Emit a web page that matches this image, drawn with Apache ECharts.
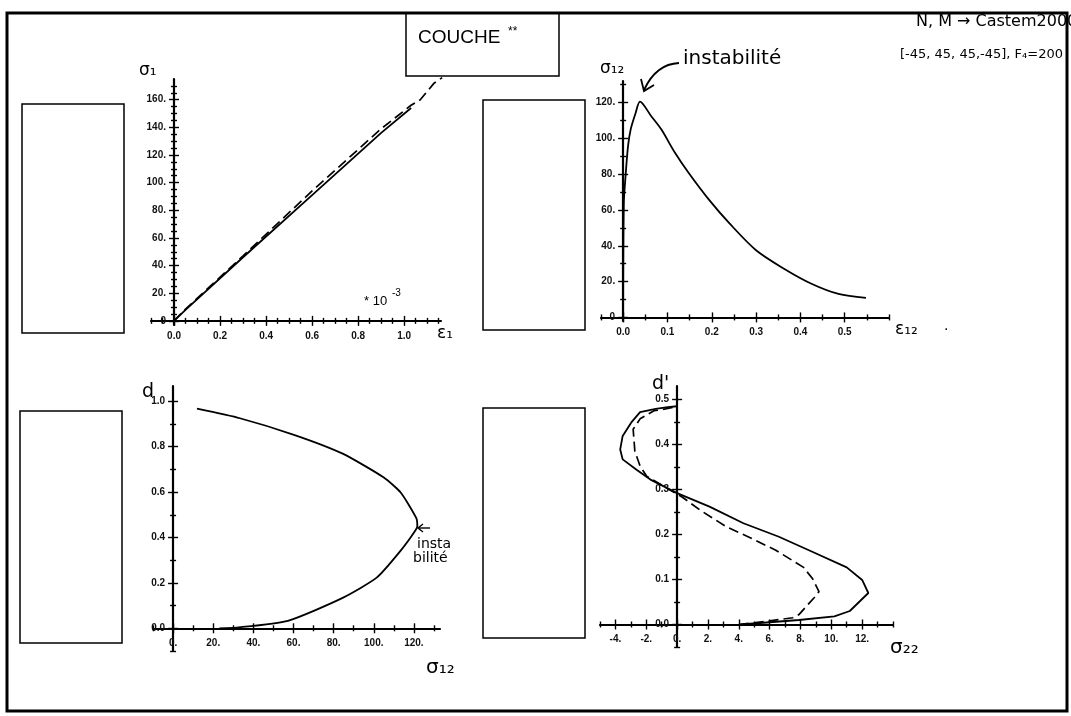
<!DOCTYPE html>
<html><head><meta charset="utf-8">
<script src="https://cdn.jsdelivr.net/npm/echarts@6/dist/echarts.min.js"></script>
<style>html,body{margin:0;padding:0;background:#fff}#c{width:1071px;height:716px}</style>
</head><body><div id="c"></div>
<script>
// ---------------- DATA ----------------
// Panel 1 : sigma1 vs eps1 (*10^-3)
const p1SolidEps = [0, 0.05, 0.3, 0.6, 0.9, 1.03];
const p1SolidSig = [0, 8, 46, 91, 136, 154];
const p1DashEps  = [0, 0.05, 0.3, 0.6, 0.9, 1.03, 1.07, 1.1, 1.13, 1.165];
const p1DashSig  = [0, 8.5, 47, 94, 139, 156, 160, 166, 172, 176];
const p1XTicks = [0, 0.2, 0.4, 0.6, 0.8, 1.0];
const p1XLabels = ['0.0', '0.2', '0.4', '0.6', '0.8', '1.0'];
const p1YTicks = [0, 20, 40, 60, 80, 100, 120, 140, 160];
const p1YLabels = ['0', '20.', '40.', '60.', '80.', '100.', '120.', '140.', '160.'];

// Panel 2 : sigma12 vs eps12
const p2Eps = [0, 0.0015, 0.0054, 0.011, 0.017, 0.028, 0.038, 0.063, 0.086, 0.117, 0.148, 0.194, 0.24, 0.30, 0.363, 0.425, 0.486, 0.548];
const p2Sig = [0, 63.8, 78.8, 95.6, 105, 114, 120.5, 112.5, 105, 91.9, 80.6, 65.6, 52.5, 37.5, 27.2, 18.8, 13.1, 10.9];
const p2XTicks = [0, 0.1, 0.2, 0.3, 0.4, 0.5];
const p2XLabels = ['0.0', '0.1', '0.2', '0.3', '0.4', '0.5'];
const p2YTicks = [0, 20, 40, 60, 80, 100, 120];
const p2YLabels = ['0', '20.', '40.', '60.', '80.', '100.', '120.'];

// Panel 3 : d vs sigma12
const p3Sig = [23.0, 31.6, 57.2, 84.5, 101.6, 113.5, 120.3, 121.7, 121.2, 113.5, 105.0, 84.5, 60.6, 33.3, 11.9];
const p3D   = [0, 0.003, 0.033, 0.134, 0.224, 0.343, 0.425, 0.451, 0.485, 0.597, 0.664, 0.769, 0.851, 0.925, 0.967];
const p3XTicks = [0, 20, 40, 60, 80, 100, 120];
const p3XLabels = ['0.', '20.', '40.', '60.', '80.', '100.', '120.'];
const p3YTicks = [0, 0.2, 0.4, 0.6, 0.8, 1.0];
const p3YLabels = ['0.0', '0.2', '0.4', '0.6', '0.8', '1.0'];

// Panel 4 : d' vs sigma22
const p4SolidSig = [4.1, 7.9, 10.2, 11.2, 12.4, 12.0, 11.0, 8.8, 6.6, 4.3, 2.1, 0, -1.73, -2.63, -3.53, -3.69, -3.53, -2.97, -2.4, -1.39, -0.6, 0];
const p4SolidD   = [0, 0.010, 0.018, 0.030, 0.070, 0.099, 0.127, 0.161, 0.195, 0.225, 0.262, 0.292, 0.322, 0.344, 0.367, 0.389, 0.419, 0.449, 0.472, 0.479, 0.483, 0.485];
const p4DashSig  = [4.0, 6.0, 7.5, 7.9, 8.9, 9.2, 8.8, 8.2, 6.4, 4.6, 3.2, 1.5, 0.3, -1.06, -1.96, -2.4, -2.74, -2.85, -2.4, -1.5, -0.6, 0];
const p4DashD    = [0, 0.008, 0.015, 0.022, 0.060, 0.073, 0.101, 0.127, 0.165, 0.195, 0.217, 0.254, 0.284, 0.311, 0.329, 0.352, 0.385, 0.434, 0.457, 0.475, 0.480, 0.485];
const p4XTicks = [-4, -2, 0, 2, 4, 6, 8, 10, 12];
const p4XLabels = ['-4.', '-2.', '0.', '2.', '4.', '6.', '8.', '10.', '12.'];
const p4YTicks = [0, 0.1, 0.2, 0.3, 0.4, 0.5];
const p4YLabels = ['0.0', '0.1', '0.2', '0.3', '0.4', '0.5'];

// ---------------- LAYOUT ----------------
function minorList(from, to, step, majors) {
  const out = [];
  const n = Math.round((to - from) / step);
  for (let i = 0; i <= n; i++) {
    const v = +(from + i * step).toFixed(6);
    if (!majors.some(m => Math.abs(m - v) < step / 10)) out.push(v);
  }
  return out;
}
function pair(xs, ys) { return xs.map((x, i) => [x, ys[i]]); }

const panels = [
  { left: 151, top: 79, width: 290, height: 246,
    x: { min: -0.1, max: 1.16, majors: p1XTicks, labels: p1XLabels, minors: minorList(-0.1, 1.15, 0.05, p1XTicks) },
    y: { min: -3, max: 175, majors: p1YTicks, labels: p1YLabels, minors: minorList(5, 170, 5, p1YTicks) } },
  { left: 601, top: 81, width: 288, height: 240,
    x: { min: -0.05, max: 0.6, majors: p2XTicks, labels: p2XLabels, minors: minorList(-0.05, 0.6, 0.05, p2XTicks) },
    y: { min: -2, max: 132, majors: p2YTicks, labels: p2YLabels, minors: minorList(10, 130, 10, p2YTicks) } },
  { left: 153, top: 386, width: 287, height: 265,
    x: { min: -10, max: 133, majors: p3XTicks, labels: p3XLabels, minors: minorList(-10, 130, 10, p3XTicks) },
    y: { min: -0.1, max: 1.067, majors: p3YTicks, labels: p3YLabels, minors: minorList(-0.1, 1.0, 0.1, p3YTicks) } },
  { left: 600, top: 386, width: 293, height: 261,
    x: { min: -5, max: 14, majors: p4XTicks, labels: p4XLabels, minors: minorList(-5, 14, 1, p4XTicks) },
    y: { min: -0.05, max: 0.53, majors: p4YTicks, labels: p4YLabels, minors: minorList(-0.05, 0.45, 0.05, p4YTicks) } }
];

const LBL = { color: '#111', fontFamily: 'Liberation Sans', fontSize: 10, fontWeight: 'bold' };
function lookup(majors, labels) {
  return function (v) {
    let bi = 0, bd = Infinity;
    majors.forEach((m, i) => { const d = Math.abs(m - v); if (d < bd) { bd = d; bi = i; } });
    return labels[bi];
  };
}

const grids = [], xAxes = [], yAxes = [];
panels.forEach((p, gi) => {
  grids.push({ left: p.left, top: p.top, width: p.width, height: p.height, containLabel: false });
  const base = gi * 4;
  // distance of the crossing axis from the grid edge (labels are laid at the grid edge)
  const dxFromLeft = p.width * (0 - p.x.min) / (p.x.max - p.x.min);
  const dyFromBottom = p.height * (0 - p.y.min) / (p.y.max - p.y.min);
  ['x', 'y'].forEach(dim => {
    const c = p[dim];
    const arr = dim === 'x' ? xAxes : yAxes;
    const pos = dim === 'x' ? ['bottom', 'top'] : ['left', 'right'];
    for (let k = 0; k < 4; k++) {
      const isMajor = k < 2;
      arr.push({
        type: 'value', gridIndex: gi, min: c.min, max: c.max,
        position: pos[k % 2],
        splitLine: { show: false }, minorTick: { show: false },
        axisLine: { show: k === 0, onZero: true, onZeroAxisIndex: base,
          lineStyle: { color: '#000', width: 2.2 } },
        axisTick: { show: true, inside: false, length: isMajor ? 5 : 3,
          customValues: isMajor ? c.majors : c.minors,
          lineStyle: { color: '#000', width: 1.4 } },
        axisLabel: k === 0 ? Object.assign({
            show: true, customValues: c.majors, formatter: lookup(c.majors, c.labels),
            margin: dim === 'x' ? 10 - dyFromBottom : 8 - dxFromLeft,
            padding: dim === 'x' ? 0 : [0, 0, 4, 0]
          }, LBL) : { show: false },
        axisPointer: { show: false }
      });
    }
  });
});

const solid = { color: '#000', width: 1.8, type: 'solid' };
const dashed = { color: '#000', width: 1.7, type: [10, 5] };
function line(gi, data, style, smooth) {
  return { type: 'line', xAxisIndex: gi * 4, yAxisIndex: gi * 4, data: data,
    showSymbol: false, symbol: 'none', clip: false, animation: false,
    smooth: smooth || false, lineStyle: style, silent: true };
}
const series = [
  line(0, pair(p1SolidEps, p1SolidSig), solid),
  line(0, pair(p1DashEps, p1DashSig), dashed),
  line(1, pair(p2Eps, p2Sig), solid, 0.3),
  line(2, pair(p3Sig, p3D), solid, 0.2),
  line(3, pair(p4SolidSig, p4SolidD), solid),
  line(3, pair(p4DashSig, p4DashD), dashed)
];

const HAND = 'DejaVu Sans';
function txt(x, y, s, size, family) {
  return { type: 'text', x: x, y: y, z: 10,
    style: { text: s, fontFamily: family || HAND, fontSize: size, fill: '#000',
      align: 'left', verticalAlign: 'middle', textAlign: 'left', textVerticalAlign: 'middle' } };
}
function box(x, y, w, h, lw) {
  return { type: 'rect', z: 5, shape: { x: x, y: y, width: w, height: h },
    style: { fill: 'none', stroke: '#000', lineWidth: lw || 1.5 } };
}

const graphic = [
  box(7, 13, 1060, 698, 3),
  box(406, 13, 153, 63, 1.5),
  txt(418, 38, 'COUCHE', 19, 'Liberation Sans'),
  txt(508, 32, '**', 12, 'Liberation Sans'),
  box(22, 104, 102, 229),
  box(483, 100, 102, 230),
  box(20, 411, 102, 232),
  box(483, 408, 102, 230),
  txt(139, 71, 'σ₁', 17),
  txt(437, 334, 'ε₁', 17),
  txt(364, 301, '* 10', 13, 'Liberation Sans'),
  txt(392, 293, '-3', 10, 'Liberation Sans'),
  txt(600, 69, 'σ₁₂', 17),
  txt(683, 59, 'instabilité', 20),
  { type: 'bezierCurve', z: 10, shape: { x1: 679, y1: 63, cpx1: 656, cpy1: 64, x2: 644, y2: 90 },
    style: { stroke: '#000', lineWidth: 1.8, fill: 'none' } },
  { type: 'polyline', z: 10, shape: { points: [[641, 79], [644, 91], [654, 85]] },
    style: { stroke: '#000', lineWidth: 1.8, fill: 'none' } },
  txt(895, 330, 'ε₁₂', 17),
  txt(944, 326, '.', 14),
  txt(916, 22, 'N, M → Castem2000', 16),
  txt(900, 55, '[-45, 45, 45,-45], F₄=200', 13),
  txt(142, 392, 'd', 19),
  txt(426, 668, 'σ₁₂', 20),
  { type: 'polyline', z: 10, shape: { points: [[430, 528], [418, 528]] }, style: { stroke: '#000', lineWidth: 1.4, fill: 'none' } },
  { type: 'polyline', z: 10, shape: { points: [[423, 524], [418, 528], [423, 532]] }, style: { stroke: '#000', lineWidth: 1.4, fill: 'none' } },
  txt(417, 544, 'insta', 14),
  txt(413, 558, 'bilité', 14),
  txt(652, 384, "d'", 19),
  txt(890, 648, 'σ₂₂', 20)
];

const chart = echarts.init(document.getElementById('c'), null, { renderer: 'canvas' });
chart.setOption({
  animation: false,
  backgroundColor: '#fff',
  grid: grids, xAxis: xAxes, yAxis: yAxes,
  series: series,
  graphic: graphic
});
</script></body></html>
